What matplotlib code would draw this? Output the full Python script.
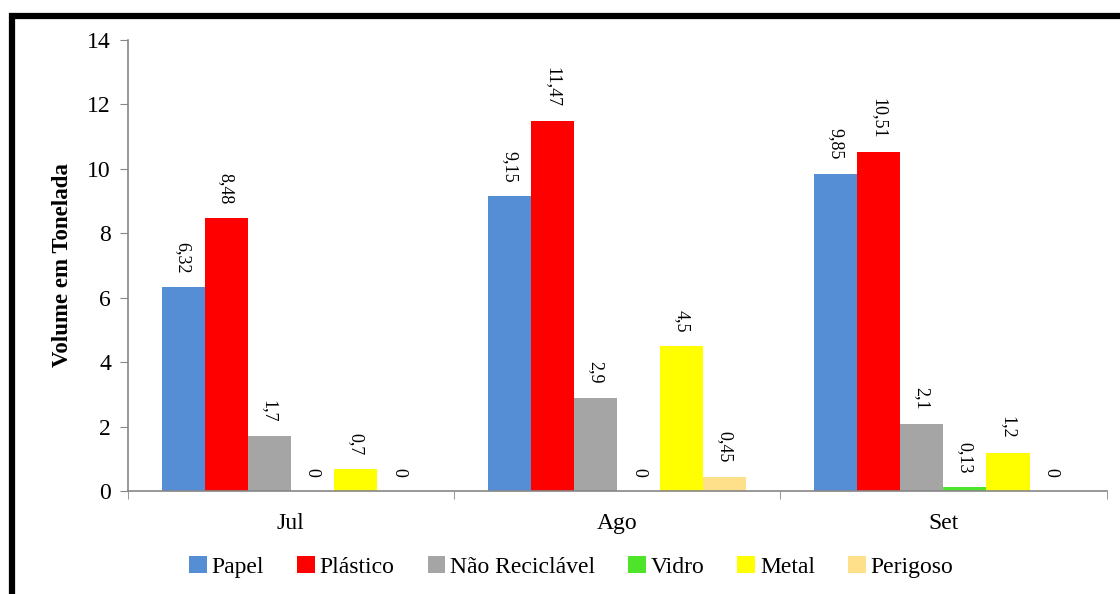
import numpy as np
import matplotlib.pyplot as plt
from matplotlib.patches import Rectangle

plt.rcParams['font.family'] = ['Liberation Serif', 'DejaVu Serif']

# Data
months = ['Jul', 'Ago', 'Set']
series = ['Papel', 'Plástico', 'Não Reciclável', 'Vidro', 'Metal', 'Perigoso']
values = {
    'Papel': [6.32, 9.15, 9.85],
    'Plástico': [8.48, 11.47, 10.51],
    'Não Reciclável': [1.7, 2.9, 2.1],
    'Vidro': [0, 0, 0.13],
    'Metal': [0.7, 4.5, 1.2],
    'Perigoso': [0, 0.45, 0],
}
colors = ['#558ED5', '#FF0000', '#A5A5A5', '#4EE42A', '#FFFF00', '#FFE08A']

fig = plt.figure(figsize=(11.2, 5.94), dpi=100)
ax = fig.add_axes([0.114, 0.173, 0.874, 0.760])

x = np.arange(len(months))
width = 0.132
for i, (name, c) in enumerate(zip(series, colors)):
    pos = x + (i - 2.5) * width
    vals = values[name]
    ax.bar(pos, vals, width, color=c, label=name, linewidth=0)
    for p, v in zip(pos, vals):
        txt = ('%g' % v).replace('.', ',')
        ax.annotate(txt, (p, v), xytext=(0, 10), textcoords='offset points',
                    rotation=270, ha='center', va='bottom', fontsize=13)

ax.set_xlim(-0.5, 2.5)
ax.set_ylim(0, 14)
ax.set_yticks(range(0, 15, 2))
ax.set_xticks(x)
ax.set_xticklabels(months, fontsize=17)
ax.set_xticks([-0.5, 0.5, 1.5, 2.5], minor=True)
ax.tick_params(axis='x', which='major', length=0, pad=16)
ax.tick_params(axis='x', which='minor', length=6, color='#868686', direction='out')
ax.tick_params(axis='y', labelsize=17, length=6, color='#868686', pad=6)
ax.set_ylabel('Volume em Tonelada', fontsize=16.5, fontweight='bold', labelpad=10)

for s in ['top', 'right']:
    ax.spines[s].set_visible(False)
for s in ['left', 'bottom']:
    ax.spines[s].set_color('#868686')
    ax.spines[s].set_linewidth(1.2)

fig.legend(loc='center', bbox_to_anchor=(0.51, 0.046), ncol=6, frameon=False,
           fontsize=17, handlelength=0.75, handleheight=0.75, handletextpad=0.2,
           columnspacing=1.4)

# black frame around the figure
frame = Rectangle((11.5 / 1120, -0.1), 1.2, 1 - 15.5 / 594 + 0.1,
                  transform=fig.transFigure, fill=False, edgecolor='black',
                  linewidth=4.5, clip_on=False)
fig.patches.append(frame)

fig.savefig('out.png', dpi=100)
